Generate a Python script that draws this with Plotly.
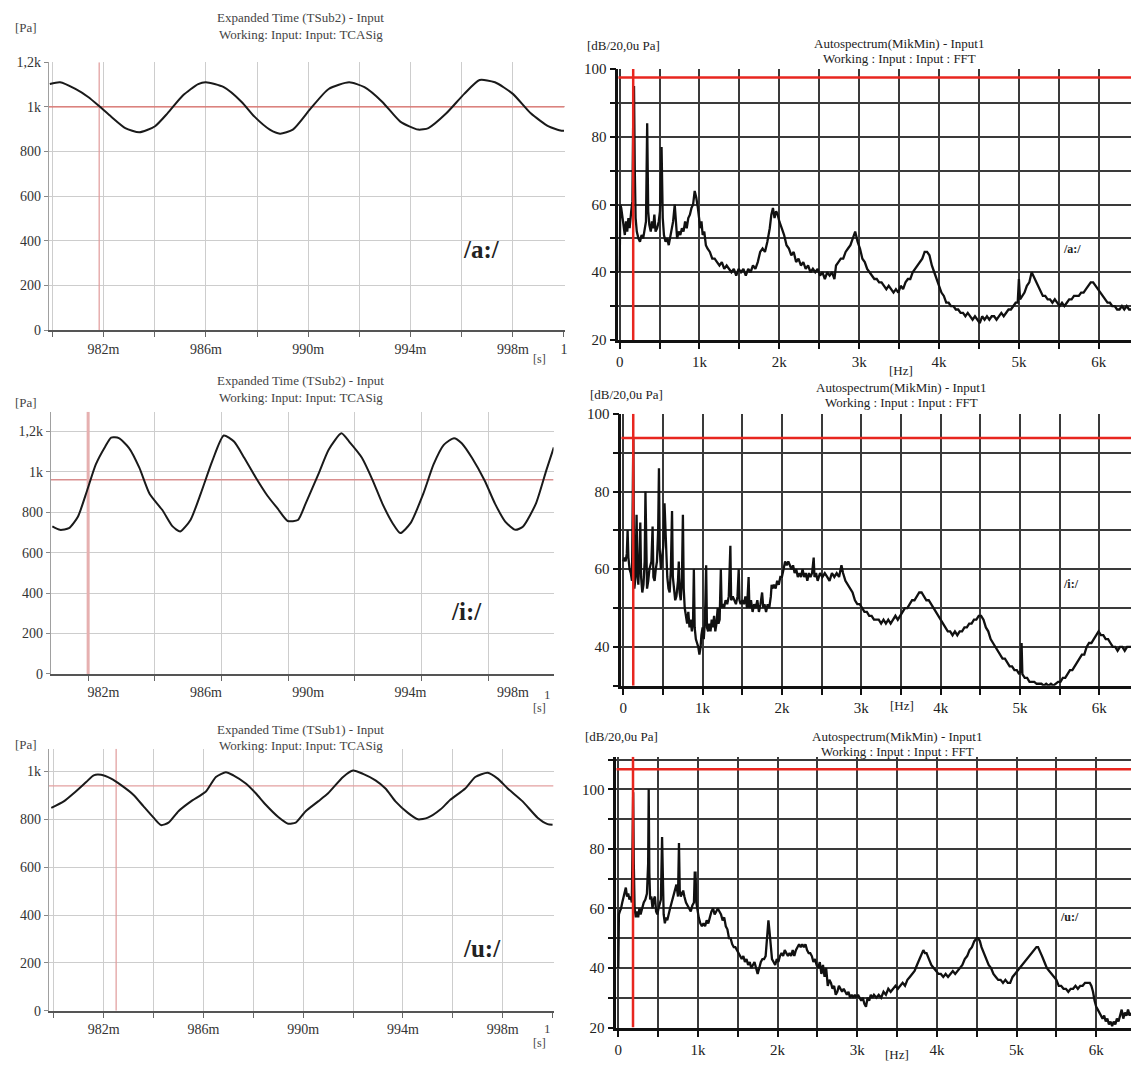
import plotly.graph_objects as go

FIG_W, FIG_H = 1134, 1070
SERIF = "Liberation Serif, Times New Roman, serif"

# ---------------- time signals (ms, Pa) ----------------
t_a = [979.9, 980.3, 980.9, 981.4, 981.86, 982.3, 982.85, 983.4, 984.0, 984.5,
       985.1, 985.7, 986.0, 986.7, 987.4, 987.9, 988.5, 988.9, 989.4, 990.1,
       990.8, 991.6, 992.2, 992.9, 993.6, 994.3, 994.7, 995.4, 996.1, 996.7,
       997.3, 998.0, 998.7, 999.4, 999.9, 1000.0]
p_a = [1102, 1110, 1080, 1044, 1000, 956, 905, 886, 912, 971,
       1051, 1102, 1110, 1088, 1022, 956, 898, 880, 898, 993,
       1080, 1110, 1088, 1022, 934, 898, 905, 971, 1058, 1120,
       1110, 1058, 971, 912, 893, 893]

t_i = [980.0, 980.3, 980.65, 981.0, 981.36, 981.7, 982.07, 982.3, 982.6, 983.0,
       983.4, 983.8, 984.3, 984.7, 985.0, 985.4, 985.8, 986.25, 986.7, 987.1,
       987.5, 987.95, 988.4, 988.8, 989.2, 989.6, 989.9, 990.4, 990.8, 991.3,
       991.6, 992.1, 992.5, 992.9, 993.3, 993.6, 994.0, 994.5, 994.9, 995.3,
       995.7, 996.0, 996.4, 996.9, 997.3, 997.7, 998.1, 998.4, 998.9, 999.3,
       999.6]
p_i = [730, 713, 721, 778, 908, 1037, 1126, 1170, 1167, 1118,
       1021, 892, 811, 730, 705, 762, 892, 1053, 1180, 1150,
       1070, 972, 883, 819, 757, 762, 843, 989, 1110, 1191,
       1150, 1070, 964, 843, 746, 697, 746, 892, 1037, 1134,
       1167, 1142, 1070, 956, 843, 754, 713, 730, 843, 1005,
       1121]

t_u = [979.9, 980.4, 980.8, 981.3, 981.6, 981.9, 982.3, 982.7, 983.2, 983.6,
       984.0, 984.3, 984.6, 985.0, 985.5, 986.1, 986.5, 986.9, 987.2, 987.7,
       988.1, 988.5, 989.0, 989.4, 989.7, 990.1, 990.6, 991.0, 991.6, 992.0,
       992.4, 992.9, 993.3, 993.7, 994.2, 994.6, 995.0, 995.5, 995.9, 996.5,
       996.9, 997.4, 997.8, 998.2, 998.8, 999.4, 999.8, 1000.0]
p_u = [848, 875, 909, 956, 984, 986, 970, 943, 902, 854,
       807, 776, 786, 834, 875, 916, 977, 997, 984, 950,
       909, 861, 810, 782, 786, 834, 875, 909, 977, 1004,
       990, 963, 929, 875, 827, 800, 807, 841, 882, 929,
       977, 995, 970, 929, 875, 807, 780, 777]

# ---------------- spectra (Hz, dB re 20 uPa) ----------------
f_a = [0, 8, 20, 35, 50, 65, 80, 95, 110, 125,
       145, 160, 172, 180, 190, 200, 215, 235, 255, 275,
       295, 315, 330, 345, 358, 372, 390, 405, 420, 435,
       450, 470, 490, 505, 525, 540, 555, 575, 595, 615,
       635, 655, 670, 690, 705, 720, 740, 760, 780, 800,
       820, 840, 860, 880, 900, 920, 940, 960, 980, 995,
       1010, 1025, 1040, 1060, 1080, 1100, 1130, 1160, 1190, 1220,
       1250, 1280, 1310, 1340, 1370, 1400, 1430, 1460, 1490, 1520,
       1550, 1580, 1610, 1640, 1670, 1700, 1730, 1760, 1790, 1820,
       1850, 1880, 1900, 1920, 1940, 1960, 1980, 2000, 2030, 2060,
       2090, 2120, 2150, 2180, 2210, 2240, 2270, 2300, 2330, 2360,
       2390, 2420, 2450, 2480, 2510, 2540, 2570, 2600, 2630, 2660,
       2690, 2710, 2740, 2770, 2800, 2830, 2860, 2890, 2920, 2950,
       2980, 3010, 3040, 3070, 3100, 3130, 3160, 3190, 3220, 3250,
       3280, 3310, 3340, 3370, 3400, 3430, 3460, 3490, 3520, 3550,
       3580, 3610, 3640, 3670, 3700, 3730, 3760, 3790, 3820, 3850,
       3880, 3910, 3940, 3970, 4000, 4030, 4060, 4090, 4120, 4150,
       4180, 4210, 4240, 4270, 4300, 4330, 4360, 4390, 4420, 4450,
       4480, 4510, 4540, 4570, 4600, 4630, 4660, 4690, 4720, 4750,
       4780, 4810, 4840, 4870, 4900, 4930, 4960, 4985, 5000, 5015,
       5040, 5070, 5100, 5130, 5160, 5180, 5210, 5240, 5270, 5300,
       5330, 5360, 5390, 5420, 5450, 5480, 5510, 5540, 5570, 5600,
       5630, 5660, 5690, 5720, 5750, 5780, 5810, 5840, 5870, 5900,
       5930, 5960, 5990, 6020, 6050, 6080, 6110, 6140, 6170, 6200,
       6230, 6260, 6290, 6320, 6350, 6380, 6410]
db_a = [40, 60, 59, 56, 53, 51, 55, 52, 56, 53,
        58, 61, 90, 95, 70, 56, 52, 50, 49, 51,
        50, 53, 55, 84, 58, 54, 52, 55, 53, 57,
        52, 53, 55, 58, 77, 56, 51, 49, 50, 48,
        51, 53, 55, 60, 54, 50, 52, 51, 53, 52,
        55, 53, 56, 57, 59, 60, 64, 62, 59, 55,
        53, 55, 51, 52, 48, 47, 46, 44, 44, 43,
        42, 43, 41, 42, 41, 40, 41, 39, 41, 40,
        41, 39, 41, 40, 42, 41, 43, 46, 47, 46,
        49, 53, 57, 59, 56, 58, 57, 55, 53, 51,
        48, 47, 45, 46, 43, 44, 42, 43, 41, 42,
        40, 41, 40, 41, 39, 40, 38, 40, 39, 40,
        38, 42, 43, 44, 44, 46, 47, 48, 50, 52,
        49, 47, 44, 43, 41, 40, 39, 38, 38, 37,
        37, 36, 35, 36, 35, 34, 35, 34, 36, 35,
        37, 38, 38, 40, 41, 42, 43, 44, 46, 46,
        45, 42, 40, 38, 36, 34, 33, 31, 31, 30,
        30, 29, 29, 28, 28, 27, 28, 27, 26, 27,
        26, 25, 27, 26, 27, 26, 27, 27, 26, 27,
        28, 27, 28, 29, 29, 30, 31, 31, 38, 32,
        33, 34, 36, 37, 40, 39, 37, 36, 34, 33,
        33, 32, 32, 31, 32, 31, 30, 31, 30, 31,
        32, 32, 33, 33, 33, 34, 34, 35, 36, 37,
        37, 36, 35, 34, 33, 32, 31, 31, 30, 30,
        29, 29, 30, 29, 30, 29, 29]

f_i = [0, 15, 30, 45, 55, 65, 80, 95, 110, 120,
       127, 133, 140, 155, 168, 178, 190, 205, 215, 225,
       240, 255, 270, 280, 290, 300, 315, 330, 355, 370,
       380, 395, 410, 425, 440, 450, 460, 475, 490, 505,
       520, 530, 540, 555, 570, 585, 600, 615, 625, 640,
       655, 670, 690, 700, 710, 725, 740, 752, 762, 775,
       790, 805, 820, 835, 850, 865, 880, 890, 900, 915,
       930, 945, 960, 975, 985, 1000, 1015, 1030, 1045, 1055,
       1070, 1085, 1100, 1115, 1130, 1145, 1160, 1175, 1190, 1200,
       1215, 1230, 1240, 1255, 1270, 1290, 1310, 1330, 1350, 1360,
       1380, 1400, 1420, 1440, 1455, 1465, 1480, 1500, 1520, 1540,
       1560, 1580, 1590, 1610, 1630, 1650, 1670, 1690, 1710, 1730,
       1750, 1765, 1780, 1800, 1820, 1840, 1860, 1870, 1880, 1900,
       1920, 1940, 1960, 1980, 2000, 2020, 2040, 2060, 2080, 2100,
       2120, 2140, 2160, 2180, 2200, 2220, 2240, 2260, 2280, 2300,
       2320, 2340, 2360, 2380, 2400, 2410, 2430, 2450, 2480, 2510,
       2540, 2570, 2600, 2630, 2660, 2690, 2720, 2750, 2770, 2800,
       2830, 2860, 2890, 2920, 2950, 2980, 3010, 3040, 3070, 3100,
       3130, 3160, 3190, 3220, 3250, 3280, 3310, 3340, 3370, 3400,
       3430, 3460, 3490, 3520, 3550, 3580, 3610, 3640, 3670, 3700,
       3730, 3760, 3790, 3820, 3850, 3880, 3910, 3940, 3970, 4000,
       4030, 4060, 4090, 4120, 4150, 4180, 4210, 4240, 4270, 4300,
       4330, 4360, 4390, 4420, 4450, 4480, 4510, 4540, 4570, 4600,
       4630, 4660, 4690, 4720, 4750, 4780, 4810, 4840, 4870, 4900,
       4930, 4960, 4990, 5010, 5020, 5030, 5060, 5090, 5120, 5150,
       5180, 5210, 5240, 5270, 5300, 5330, 5360, 5390, 5420, 5450,
       5480, 5510, 5540, 5570, 5600, 5630, 5660, 5690, 5720, 5750,
       5780, 5810, 5840, 5870, 5900, 5930, 5960, 5990, 6020, 6050,
       6080, 6110, 6140, 6170, 6200, 6230, 6260, 6290, 6320, 6350,
       6380, 6400]
db_i = [62, 63, 62, 64, 70, 63, 60, 59, 57, 75,
        94, 72, 55, 58, 74, 60, 56, 64, 72, 58,
        54, 56, 62, 80, 60, 55, 57, 60, 62, 71,
        58, 57, 60, 62, 70, 86, 65, 60, 63, 66,
        77, 70, 62, 58, 55, 54, 60, 75, 58, 54,
        52, 53, 57, 62, 54, 52, 58, 74, 55, 50,
        48, 46, 49, 45, 47, 44, 47, 60, 45, 42,
        41, 40, 38, 40, 43, 45, 42, 47, 61, 45,
        44, 46, 44, 47, 45, 48, 44, 46, 50, 46,
        47, 60, 50, 51, 50, 52, 51, 53, 66, 52,
        53, 52, 51, 53, 60, 52, 51, 52, 51, 53,
        50, 58, 50, 52, 49, 51, 50, 52, 49, 51,
        54, 50, 51, 49, 51, 50, 53, 56, 55, 56,
        55, 57, 56, 58, 58, 60, 62, 61, 62, 61,
        60, 61, 59, 60, 58, 59, 58, 60, 58, 59,
        57, 59, 58, 59, 63, 58, 59, 57, 59, 58,
        59, 58, 57, 59, 58, 59, 58, 61, 59, 57,
        56, 55, 54, 52, 51, 51, 50, 49, 49, 48,
        48, 47, 47, 47, 46, 47, 46, 47, 46, 47,
        48, 47, 48, 49, 50, 50, 51, 52, 52, 53,
        54, 54, 53, 52, 52, 51, 50, 49, 48, 47,
        46, 45, 44, 44, 43, 44, 43, 44, 44, 45,
        45, 46, 46, 47, 47, 48, 48, 47, 45, 44,
        42, 41, 40, 39, 38, 37, 37, 36, 35, 35,
        34, 34, 33, 34, 41, 33, 32, 32, 31, 31,
        31, 30.5, 30.5, 30.5, 30, 30.5, 30, 30.5, 30, 30.5,
        31, 31, 32, 32, 33, 34, 34, 35, 36, 37,
        38, 38, 40, 41, 41, 42, 43, 44, 43, 43,
        42, 42, 41, 40, 40, 39, 40, 40, 39, 40,
        40, 40]

f_u = [0, 8, 20, 35, 50, 65, 80, 95, 110, 125,
       140, 155, 170, 180, 187, 195, 205, 220, 235, 250,
       265, 280, 300, 320, 340, 360, 375, 382, 390, 400,
       415, 430, 445, 460, 475, 490, 505, 520, 535, 550,
       560, 570, 585, 600, 615, 630, 650, 670, 690, 710,
       730, 750, 762, 772, 785, 800, 815, 830, 850, 870,
       890, 910, 930, 950, 960, 970, 980, 995, 1010, 1030,
       1050, 1070, 1090, 1110, 1130, 1150, 1170, 1190, 1210, 1230,
       1250, 1270, 1290, 1310, 1330, 1350, 1370, 1390, 1410, 1430,
       1450, 1470, 1490, 1510, 1530, 1550, 1570, 1590, 1610, 1630,
       1650, 1670, 1690, 1710, 1730, 1750, 1770, 1790, 1810, 1830,
       1850, 1870, 1885, 1900, 1915, 1930, 1950, 1970, 1990, 2010,
       2030, 2050, 2070, 2090, 2110, 2130, 2150, 2170, 2190, 2210,
       2230, 2250, 2270, 2290, 2310, 2330, 2350, 2370, 2390, 2410,
       2430, 2450, 2470, 2490, 2510, 2530, 2550, 2570, 2590, 2610,
       2630, 2650, 2670, 2690, 2710, 2730, 2750, 2770, 2790, 2810,
       2830, 2850, 2870, 2890, 2910, 2930, 2950, 2970, 2990, 3010,
       3030, 3050, 3070, 3090, 3110, 3130, 3150, 3170, 3190, 3210,
       3240, 3270, 3300, 3330, 3360, 3390, 3420, 3450, 3480, 3510,
       3540, 3570, 3600, 3630, 3660, 3690, 3720, 3750, 3780, 3810,
       3830, 3850, 3870, 3900, 3930, 3960, 3990, 4020, 4050, 4080,
       4110, 4140, 4170, 4200, 4230, 4260, 4290, 4320, 4350, 4380,
       4410, 4440, 4470, 4500, 4520, 4540, 4560, 4590, 4620, 4650,
       4680, 4710, 4740, 4770, 4800, 4830, 4860, 4890, 4920, 4950,
       4980, 5010, 5040, 5070, 5100, 5130, 5160, 5190, 5220, 5250,
       5270, 5290, 5320, 5350, 5380, 5410, 5440, 5470, 5500, 5530,
       5560, 5590, 5620, 5650, 5680, 5710, 5740, 5770, 5800, 5830,
       5860, 5890, 5920, 5940, 5960, 5980, 6000, 6020, 6040, 6060,
       6080, 6100, 6120, 6140, 6160, 6180, 6200, 6220, 6240, 6260,
       6280, 6300, 6320, 6340, 6360, 6380, 6400, 6420, 6437]
db_u = [40, 58, 59, 60, 62, 64, 66, 67, 64, 65,
        63, 64, 62, 90, 99, 75, 60, 57, 59, 57,
        60, 58, 60, 62, 63, 65, 75, 100, 72, 63,
        64, 60, 63, 64, 59, 58, 60, 62, 63, 84,
        66, 58, 55, 57, 56, 58, 60, 62, 64, 66,
        68, 64, 82, 66, 64, 65, 66, 64, 62, 61,
        60, 59, 61, 62, 72, 72, 62, 59, 57, 55,
        54, 55, 54, 56, 55, 57, 59, 60, 58, 59,
        60, 59, 58, 56, 57, 54, 53, 50, 50, 48,
        47, 47, 46, 45, 44, 43, 44, 42, 43, 41,
        42, 40, 41, 42, 40, 38, 40, 42, 43, 43,
        44, 50, 56, 52, 46, 43, 42, 41, 43, 42,
        44, 45, 44, 46, 45, 44, 45, 44, 46, 44,
        46, 47, 48, 47, 48, 47, 48, 46, 45, 45,
        44, 42, 43, 41, 40, 42, 38, 41, 37, 40,
        34, 36, 35, 33, 34, 31, 32, 34, 33, 32,
        33, 32, 31, 32, 30, 31, 30, 31, 30, 31,
        30, 29, 30, 28, 27, 30, 29, 31, 30, 31,
        30, 31, 30, 32, 31, 33, 32, 33, 34, 33,
        34, 35, 34, 36, 37, 38, 39, 41, 43, 45,
        46, 45, 45, 43, 41, 40, 39, 38, 38, 37,
        38, 37, 38, 39, 38, 39, 40, 41, 43, 44,
        46, 47, 49, 50, 50, 49, 47, 45, 43, 41,
        40, 38, 37, 36, 36, 35, 36, 35, 35, 37,
        38, 39, 40, 41, 42, 43, 44, 45, 46, 47,
        47, 46, 44, 42, 40, 39, 38, 37, 36, 34,
        34, 33, 33, 32, 33, 33, 34, 33, 34, 34,
        35, 35, 35, 34, 32, 29, 27, 26, 25, 24,
        23, 24, 22, 23, 21, 22, 20.5, 22, 21, 23,
        22, 24, 26, 23, 25, 24, 26, 24, 25]

# cursor positions (red lines)
cursor_t = [981.83, 981.4, 982.5]
cursor_p = [1000, 961, 940]
cursor_f = [170, 126, 185]
cursor_db = [97.5, 93.8, 106.8]

# axis ranges
xr_time = [[979.86, 1000.02], [979.94, 999.59], [979.8, 1000.04]]
yr_time = [[0, 1200], [0, 1297], [0, 1095]]
xr_freq = [[-17, 6404], [-25, 6399], [-25, 6437]]
yr_freq = [[20, 100], [30, 100], [20, 111]]

# tick labels
time_tick_vals = [982, 986, 990, 994, 998]
time_tick_text = ["982m", "986m", "990m", "994m", "998m"]
freq_tick_vals = [0, 1000, 2000, 3000, 4000, 5000, 6000]
freq_tick_text = ["0", "1k", "2k", "3k", "4k", "5k", "6k"]

LG = "#cdcdcd"
DG = "#3a3a3a"


def dom_x(a, b):
    return [a / FIG_W, min(b / FIG_W, 1.0)]


def dom_y(top, bot):
    return [1 - bot / FIG_H, 1 - top / FIG_H]


def left_x(domain, rng, tickvals, ticktext, m0, md, anchor, major_grid=True, major_tick_col="#666"):
    return dict(domain=domain, range=rng, anchor=anchor, tickmode="array", tickvals=tickvals,
                ticktext=ticktext, showgrid=major_grid, gridcolor=LG, gridwidth=1, zeroline=False,
                showline=True, linecolor="#555", linewidth=1.5, ticks="outside", ticklen=5,
                tickcolor=major_tick_col, tickfont=dict(family=SERIF, size=14, color="#333"),
                minor=dict(tickmode="linear", tick0=m0, dtick=md, showgrid=True, gridcolor=LG,
                           gridwidth=1, ticks="outside", ticklen=5, tickcolor="#666"),
                fixedrange=True)


def left_y(domain, rng, tickvals, ticktext, anchor):
    return dict(domain=domain, range=rng, anchor=anchor, tickmode="array", tickvals=tickvals,
                ticktext=ticktext, showgrid=True, gridcolor=LG, gridwidth=1, zeroline=False,
                showline=True, linecolor="#a0a0a0", linewidth=1, ticks="outside", ticklen=4,
                tickcolor="#888", tickfont=dict(family=SERIF, size=14, color="#333"), fixedrange=True)


def right_x(domain, rng, anchor):
    return dict(domain=domain, range=rng, anchor=anchor, tickmode="array", tickvals=freq_tick_vals,
                ticktext=freq_tick_text, showgrid=True, gridcolor=DG, gridwidth=2, zeroline=False,
                showline=True, linecolor="#111", linewidth=3, ticks="outside", ticklen=6, tickwidth=2,
                tickcolor="#111", tickfont=dict(family=SERIF, size=15, color="#222"),
                minor=dict(tickmode="linear", tick0=500, dtick=1000, showgrid=True, gridcolor=DG,
                           gridwidth=2, ticks="outside", ticklen=6, tickwidth=2, tickcolor="#111"),
                fixedrange=True)


def right_y(domain, rng, tickvals, anchor):
    return dict(domain=domain, range=rng, anchor=anchor, tickmode="array", tickvals=tickvals,
                ticktext=[str(v) for v in tickvals], showgrid=True, gridcolor=DG, gridwidth=2,
                zeroline=False, showline=True, linecolor="#111", linewidth=2.5, ticks="outside",
                ticklen=6, tickwidth=2, tickcolor="#111", tickfont=dict(family=SERIF, size=15, color="#222"),
                minor=dict(tickmode="linear", tick0=30, dtick=20, showgrid=True, gridcolor=DG,
                           gridwidth=2, ticks="outside", ticklen=6, tickwidth=2, tickcolor="#111"),
                fixedrange=True)


fig = go.Figure()

time_line = dict(color="#1a1a1a", width=2, shape="spline", smoothing=0.6)
spec_line = dict(color="#111111", width=2.3)

time_axes = [("x", "y"), ("x3", "y3"), ("x5", "y5")]
freq_axes = [("x2", "y2"), ("x4", "y4"), ("x6", "y6")]
left_red_h = [dict(color="#dc6a64", width=1.3), dict(color="#d98f8f", width=1.5), dict(color="#e3a0a0", width=1.2)]
left_red_v = [dict(color="#e09a9a", width=1.2), dict(color="#e6b0b0", width=3), dict(color="#e09a9a", width=1.2)]
red_right = dict(color="#e8261f", width=2.5)

# left cursor lines (under the signal)
for k, (xa, ya) in enumerate(time_axes):
    fig.add_trace(go.Scatter(x=xr_time[k], y=[cursor_p[k], cursor_p[k]], mode="lines",
                             line=left_red_h[k], xaxis=xa, yaxis=ya, hoverinfo="skip"))
    fig.add_trace(go.Scatter(x=[cursor_t[k], cursor_t[k]], y=yr_time[k], mode="lines",
                             line=left_red_v[k], xaxis=xa, yaxis=ya, hoverinfo="skip"))

series_time = [(t_a, p_a), (t_i, p_i), (t_u, p_u)]
series_freq = [(f_a, db_a), (f_i, db_i), (f_u, db_u)]
for k, (xa, ya) in enumerate(time_axes):
    fig.add_trace(go.Scatter(x=series_time[k][0], y=series_time[k][1], mode="lines", line=time_line,
                             xaxis=xa, yaxis=ya))
for k, (xa, ya) in enumerate(freq_axes):
    fig.add_trace(go.Scatter(x=series_freq[k][0], y=series_freq[k][1], mode="lines", line=spec_line,
                             xaxis=xa, yaxis=ya))
    fig.add_trace(go.Scatter(x=xr_freq[k], y=[cursor_db[k], cursor_db[k]], mode="lines",
                             line=red_right, xaxis=xa, yaxis=ya, hoverinfo="skip"))
    fig.add_trace(go.Scatter(x=[cursor_f[k], cursor_f[k]], y=yr_freq[k], mode="lines",
                             line=red_right, xaxis=xa, yaxis=ya, hoverinfo="skip"))

layout = dict(
    width=FIG_W, height=FIG_H, autosize=False, margin=dict(l=0, r=0, t=0, b=0),
    paper_bgcolor="white", plot_bgcolor="white", showlegend=False,
    xaxis=left_x(dom_x(47, 565), xr_time[0], time_tick_vals + [1000], time_tick_text + ["1"],
                 980, 2, "y"),
    yaxis=left_y(dom_y(55, 327), yr_time[0], [0, 200, 400, 600, 800, 1000, 1200],
                 ["0", "200", "400", "600", "800", "1k", "1,2k"], "x"),
    xaxis2=right_x(dom_x(619, 1134), xr_freq[0], "y2"),
    yaxis2=right_y(dom_y(62, 337), yr_freq[0], [20, 40, 60, 80, 100], "x2"),
    xaxis3=left_x(dom_x(49, 554), xr_time[1], time_tick_vals, time_tick_text,
                  981.4, 2.607, "y3", major_grid=False, major_tick_col="rgba(0,0,0,0)"),
    yaxis3=left_y(dom_y(410, 676), yr_time[1], [0, 200, 400, 600, 800, 1000, 1200],
                  ["0", "200", "400", "600", "800", "1k", "1,2k"], "x3"),
    xaxis4=right_x(dom_x(622, 1134), xr_freq[1], "y4"),
    yaxis4=right_y(dom_y(412, 688), yr_freq[1], [40, 60, 80, 100], "x4"),
    xaxis5=left_x(dom_x(47, 554), xr_time[2], time_tick_vals, time_tick_text,
                  980, 2, "y5"),
    yaxis5=left_y(dom_y(752, 1018), yr_time[2], [0, 200, 400, 600, 800, 1000],
                  ["0", "200", "400", "600", "800", "1k"], "x5"),
    xaxis6=right_x(dom_x(617, 1134), xr_freq[2], "y6"),
    yaxis6=right_y(dom_y(760, 1035), yr_freq[2], [20, 40, 60, 80, 100], "x6"),
)
fig.update_layout(**layout)

# ---- texts ----
anns = []


def txt(s, x, y, size=13, bold=False, xanchor="center", color="#333"):
    anns.append(dict(text=("<b>%s</b>" % s) if bold else s, x=x / FIG_W, y=1 - y / FIG_H,
                     xref="paper", yref="paper", xanchor=xanchor, yanchor="middle", showarrow=False,
                     font=dict(family=SERIF, size=size, color=color)))


# left titles
for (cy, sub) in [(10, "Expanded Time (TSub2) - Input"), (378, "Expanded Time (TSub2) - Input"),
                  (732, "Expanded Time (TSub1) - Input")]:
    txt(sub, 300, cy, 13, color="#444")
    txt("Working: Input: Input: TCASig", 300, cy + 17, 13, color="#444")
for cy in [20, 400, 748]:
    txt("[Pa]", 24, cy, 13, color="#444")

# right titles
for (cy, cx, work) in [(36, 901, "Working : Input : Input : FFT"), (385, 903, "Working : Input : Input : FFT"),
                       (740, 899, "Working : Input : Input : FFT")]:
    txt("Autospectrum(MikMin) - Input1", cx, cy, 13, color="#222")
    txt(work, cx, cy + 15, 13, color="#222")
for (cx, cy) in [(624, 38), (627, 392), (622, 740)]:
    txt("[dB/20,0u Pa]", cx, cy, 13, color="#222")

# axis unit labels
txt("[s]", 540, 356, 12, color="#444")
txt("1", 548, 697, 13, color="#444")
txt("[s]", 540, 711, 12, color="#444")
txt("1", 548, 1036, 13, color="#444")
txt("[s]", 540, 1051, 12, color="#444")
txt("[Hz]", 903, 368, 13, color="#222")
txt("[Hz]", 904, 708, 13, color="#222")
txt("[Hz]", 899, 1062, 13, color="#222")

# vowel labels
txt("/a:/", 482, 245, 25, bold=True, color="#222")
txt("/i:/", 467, 613, 25, bold=True, color="#222")
txt("/u:/", 482, 955, 25, bold=True, color="#222")
txt("/a:/", 1075, 245, 12, bold=True, color="#222")
txt("/i:/", 1074, 585, 12, bold=True, color="#222")
txt("/u:/", 1072, 923, 12, bold=True, color="#222")

fig.update_layout(annotations=anns)

fig.write_html(
    "out.html",
    config={"displayModeBar": False},
    post_script=("var gd=document.getElementById('{plot_id}');"
                 "document.documentElement.style.margin='0';document.body.style.margin='0';"
                 "gd.style.position='fixed';gd.style.left='0px';gd.style.top='0px';"),
)
